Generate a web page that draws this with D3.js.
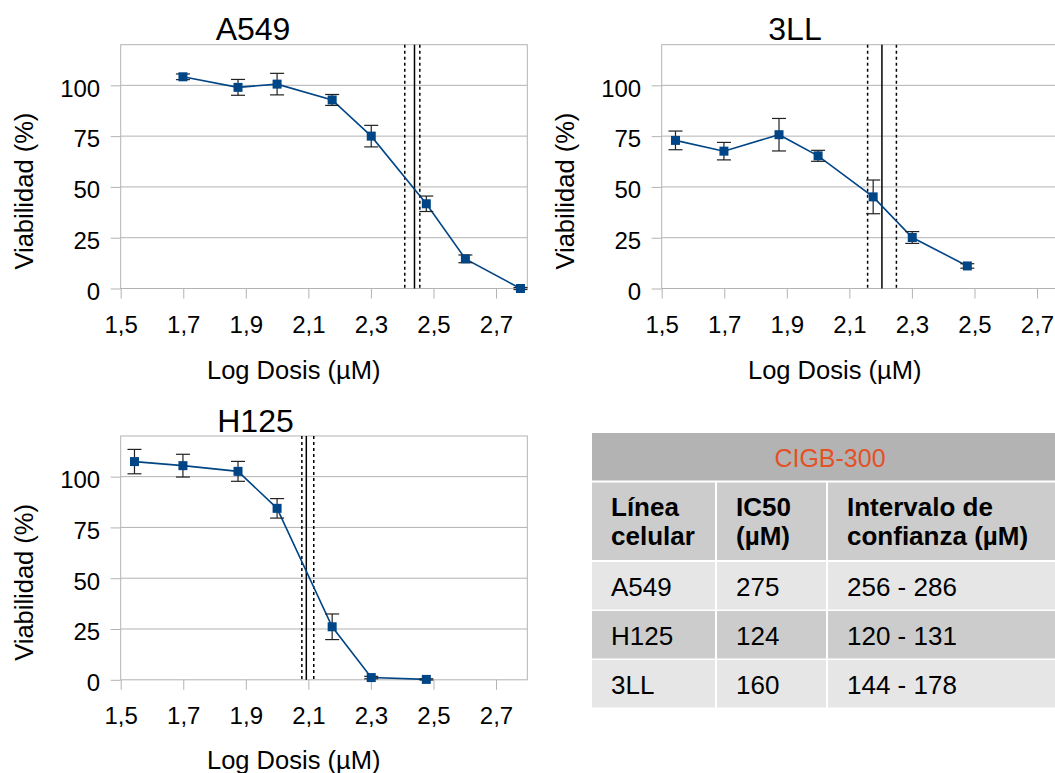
<!DOCTYPE html>
<html>
<head>
<meta charset="utf-8">
<script src="https://cdn.jsdelivr.net/npm/d3@7"></script>
<style>
  body { margin: 0; background: #fff; overflow: hidden; }
  svg { font-family: "Liberation Sans", Arial, sans-serif; }
</style>
</head>
<body>
<script>
// dose (µM), viability (%) and error
const a549Dose = [50, 75, 100, 150, 200, 300, 400, 600]
const a549Viab = [104.2, 99.0, 100.6, 92.8, 75.0, 41.7, 14.6, 0]
const a549Err = [1.4, 3.9, 5.3, 2.7, 5.3, 3.8, 1.9, 0.5]

const lccDose = [35, 50, 75, 100, 150, 200, 300]
const lccViab = [72.9, 67.6, 75.7, 65.3, 45.1, 25.1, 11.1]
const lccErr = [4.6, 4.3, 8.0, 2.7, 8.3, 2.9, 1.1]

const h125Dose = [35, 50, 75, 100, 150, 200, 300]
const h125Viab = [107.4, 105.4, 102.6, 84.4, 26.1, 1.1, 0.2]
const h125Err = [6.0, 5.6, 4.9, 4.8, 6.3, 0.6, 0.3]

// table values (also drive the IC50 lines)
const cellLines = ['A549', 'H125', '3LL']
const ic50 = [275, 124, 160]
const ciLow = [256, 120, 144]
const ciHigh = [286, 131, 178]

const xTicks = [1.5, 1.7, 1.9, 2.1, 2.3, 2.5, 2.7]
const yTicks = [0, 25, 50, 75, 100]

const tableTitle = 'CIGB-300'
const tableHeaders = [['Línea', 'celular'], ['IC50', '(µM)'], ['Intervalo de', 'confianza (µM)']]

const m = { width: 1055, height: 773 }

const svg = d3.select('body').append('svg')
    .attr('width', m.width)
    .attr('height', m.height)

const blue = '#004586'
const grid = '#b3b3b3'
const fmt = d => d.toFixed(1).replace('.', ',')

const panels = [
  { name: 'A549', idx: 0, dose: a549Dose, viab: a549Viab, err: a549Err, left: 120.7, top: 44.7, titleX: 253, titleY: 40, xTitleY: 378.5 },
  { name: '3LL', idx: 2, dose: lccDose, viab: lccViab, err: lccErr, left: 661.7, top: 44.7, titleX: 795, titleY: 40, xTitleY: 378.5 },
  { name: 'H125', idx: 1, dose: h125Dose, viab: h125Viab, err: h125Err, left: 120.7, top: 436, titleX: 255.5, titleY: 431.7, xTitleY: 769 }
]

const pw = 406.6, ph = 243.8

panels.forEach(function(p) {
    const g = svg.append('g').attr('transform', `translate(${p.left},${p.top})`)

    const x = d3.scaleLinear().domain([1.5, 2.8]).range([0, pw])
    const y = d3.scaleLinear().domain([0, 120]).range([ph, 0])

    // horizontal grid
    g.selectAll('.grid')
      .data(yTicks.filter(d => d > 0))
      .enter()
      .append('line')
        .attr('x1', 0).attr('x2', pw)
        .attr('y1', d => y(d)).attr('y2', d => y(d))
        .attr('stroke', grid).attr('stroke-width', 1)

    g.append('rect')
        .attr('width', pw).attr('height', ph)
        .attr('fill', 'none').attr('stroke', grid).attr('stroke-width', 1)

    const xAxis = g.append('g')
        .attr('transform', `translate(0,${ph})`)
        .call(d3.axisBottom(x).tickValues(xTicks).tickFormat(fmt).tickSize(10).tickPadding(17))
    const yAxis = g.append('g')
        .call(d3.axisLeft(y).tickValues(yTicks).tickSize(10).tickPadding(10.5))
    yAxis.selectAll('text').attr('dy', '0.45em')
    ;[xAxis, yAxis].forEach(function(a) {
        a.select('.domain').remove()
        a.selectAll('line').attr('stroke', grid)
        a.selectAll('text').attr('font-size', 24).attr('fill', '#000')
          .attr('font-family', '"Liberation Sans", Arial, sans-serif')
    })

    // IC50 and confidence interval
    const vl = [
      { v: ciLow[p.idx], dash: '3,3' },
      { v: ic50[p.idx], dash: null },
      { v: ciHigh[p.idx], dash: '3,3' }
    ]
    g.selectAll('.vline')
      .data(vl)
      .enter()
      .append('line')
        .attr('x1', d => x(Math.log10(d.v))).attr('x2', d => x(Math.log10(d.v)))
        .attr('y1', 0).attr('y2', ph)
        .attr('stroke', '#000').attr('stroke-width', 1.5)
        .attr('stroke-dasharray', d => d.dash)

    const pts = p.dose.map((d, i) => ({ x: Math.log10(d), y: p.viab[i], e: p.err[i] }))

    g.append('path')
        .datum(pts)
        .attr('fill', 'none').attr('stroke', blue).attr('stroke-width', 1.6)
        .attr('d', d3.line().x(d => x(d.x)).y(d => y(d.y)))

    const eb = g.selectAll('.err').data(pts).enter().append('g')
        .attr('stroke', '#222').attr('stroke-width', 1.2)
    eb.append('line')
        .attr('x1', d => x(d.x)).attr('x2', d => x(d.x))
        .attr('y1', d => y(d.y - d.e)).attr('y2', d => y(d.y + d.e))
    eb.append('line')
        .attr('x1', d => x(d.x) - 7).attr('x2', d => x(d.x) + 7)
        .attr('y1', d => y(d.y - d.e)).attr('y2', d => y(d.y - d.e))
    eb.append('line')
        .attr('x1', d => x(d.x) - 7).attr('x2', d => x(d.x) + 7)
        .attr('y1', d => y(d.y + d.e)).attr('y2', d => y(d.y + d.e))

    g.selectAll('.pt')
      .data(pts)
      .enter()
      .append('rect')
        .attr('x', d => x(d.x) - 4.5).attr('y', d => y(d.y) - 4.5)
        .attr('width', 9).attr('height', 9)
        .attr('fill', blue)

    svg.append('text')
        .attr('x', p.titleX).attr('y', p.titleY)
        .attr('text-anchor', 'middle').attr('font-size', 32)
        .text(p.name)

    svg.append('text')
        .attr('x', p.left + 173).attr('y', p.xTitleY)
        .attr('text-anchor', 'middle').attr('font-size', 25.5)
        .text('Log Dosis (µM)')

    svg.append('text')
        .attr('transform', `translate(${p.left - 88},${p.top + ph / 2 + 24.5}) rotate(-90)`)
        .attr('text-anchor', 'middle').attr('font-size', 25.5)
        .text('Viabilidad (%)')
})

// table
const tx = 592, tw = 480
const colX = [592, 717, 828]
const colW = [123, 109, 250]
const tg = svg.append('g')

tg.append('rect').attr('x', tx).attr('y', 433).attr('width', tw).attr('height', 47.5).attr('fill', '#b3b3b3')
tg.append('text')
    .attr('x', 830).attr('y', 466.5).attr('text-anchor', 'middle')
    .attr('font-size', 25).attr('fill', '#e35127')
    .text(tableTitle)

tableHeaders.forEach(function(h, i) {
    tg.append('rect').attr('x', colX[i]).attr('y', 482.5).attr('width', colW[i]).attr('height', 77.5).attr('fill', '#cccccc')
    const t = tg.append('text').attr('font-size', 26).attr('font-weight', 'bold')
    h.forEach(function(line, j) {
        t.append('tspan').attr('x', colX[i] + 19).attr('y', 516 + j * 29).text(line)
    })
})

const rowFill = ['#e6e6e6', '#cccccc', '#e6e6e6']
cellLines.forEach(function(c, r) {
    const ry = 562 + r * 49
    const vals = [c, String(ic50[r]), ciLow[r] + ' - ' + ciHigh[r]]
    vals.forEach(function(v, i) {
        tg.append('rect').attr('x', colX[i]).attr('y', ry).attr('width', colW[i]).attr('height', 47.5).attr('fill', rowFill[r])
        tg.append('text').attr('x', colX[i] + 19).attr('y', ry + 33.7).attr('font-size', 26).text(v)
    })
})
</script>
</body>
</html>
